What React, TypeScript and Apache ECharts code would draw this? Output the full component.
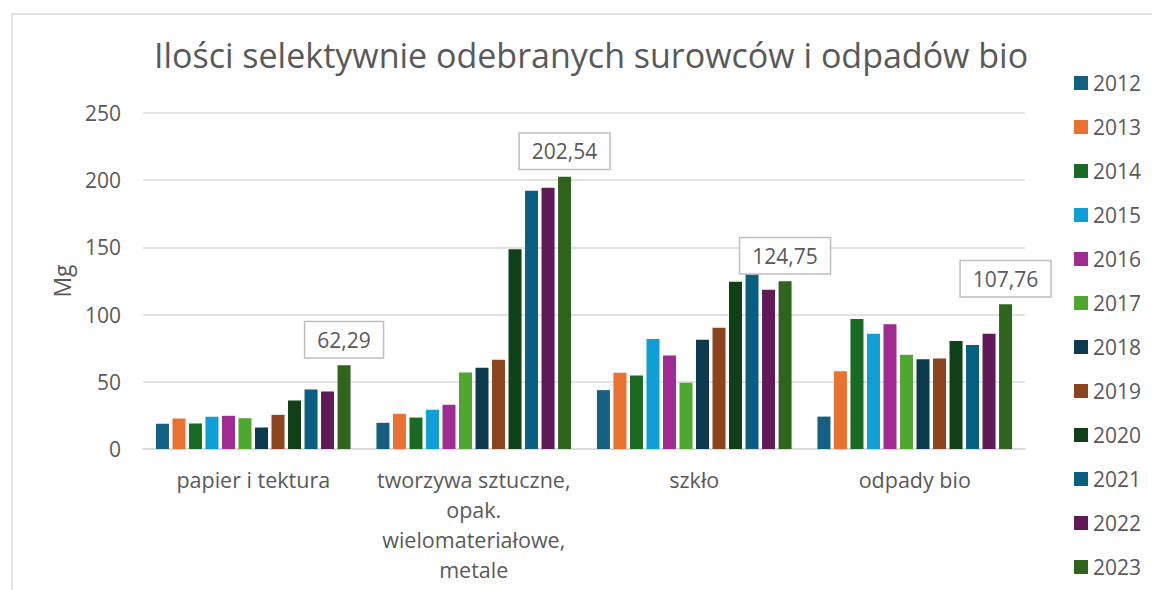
import React, { useEffect, useRef } from "react";
import * as echarts from "echarts";

const categories = [
  "papier i tektura",
  "tworzywa sztuczne,\nopak.\nwielomateriałowe,\nmetale",
  "szkło",
  "odpady bio",
];
const years = ["2012", "2013", "2014", "2015", "2016", "2017", "2018", "2019", "2020", "2021", "2022", "2023"];
const v2012 = [18.8, 19.5, 43.8, 24.1];
const v2013 = [22.7, 26.2, 56.7, 57.8];
const v2014 = [19.0, 23.4, 54.7, 96.7];
const v2015 = [24.0, 29.2, 81.9, 85.7];
const v2016 = [24.7, 32.9, 69.6, 92.9];
const v2017 = [22.9, 56.9, 49.3, 70.1];
const v2018 = [16.0, 60.4, 81.2, 66.8];
const v2019 = [25.4, 66.4, 90.2, 67.3];
const v2020 = [36.1, 148.7, 124.4, 80.4];
const v2021 = [44.3, 192.1, 129.8, 77.4];
const v2022 = [42.8, 194.3, 118.4, 85.7];
const v2023 = [62.29, 202.54, 124.75, 107.76];
const seriesValues = [v2012, v2013, v2014, v2015, v2016, v2017, v2018, v2019, v2020, v2021, v2022, v2023];
const colors = [
  "#156082", "#E97132", "#196B24", "#0F9ED5", "#A02B93", "#4EA72E",
  "#0D3A4E", "#8C441E", "#0F4016", "#095F80", "#601A58", "#2F641C",
];

const FONT = "'Open Sans', sans-serif";
const TXT = "#595959";

export default function App() {
  const ref = useRef<HTMLDivElement>(null);
  useEffect(() => {
    if (!ref.current) return;
    const chart = echarts.init(ref.current, null, { renderer: "svg" });
    const series = years.map((y, i) => ({
      name: y,
      type: "bar",
      data: seriesValues[i],
      barWidth: 13,
      barGap: "27%",
      itemStyle: { color: colors[i] },
      label:
        i === years.length - 1
          ? {
              show: true,
              position: "top",
              distance: 8,
              formatter: (p: any) => String(p.value).replace(".", ","),
              fontSize: 21,
              fontFamily: FONT,
              color: TXT,
              backgroundColor: "#fff",
              borderColor: "#BFBFBF",
              borderWidth: 1.5,
              padding: [7, 12, 7, 12],
            }
          : { show: false },
    }));
    chart.setOption({
      animation: false,
      textStyle: { fontFamily: FONT },
      title: {
        text: "Ilości selektywnie odebranych surowców i odpadów bio",
        left: 586,
        textAlign: "center",
        top: 33,
        textStyle: { fontSize: 34, fontWeight: "normal", color: TXT, fontFamily: FONT },
      },
      graphic: [
        {
          type: "rect",
          shape: { x: 12, y: 14, width: 1300, height: 800 },
          style: { fill: "none", stroke: "#D9D9D9", lineWidth: 1.5 },
          silent: true,
        },
      ],
      legend: {
        orient: "vertical",
        left: 1069,
        top: 67,
        itemWidth: 14,
        itemHeight: 14,
        itemGap: 22,
        icon: "rect",
        textStyle: { fontSize: 21, color: TXT, fontFamily: FONT, lineHeight: 22 },
        data: years,
      },
      grid: { left: 143, right: 127, top: 113, bottom: 141, containLabel: false },
      xAxis: {
        type: "category",
        data: categories,
        axisTick: { show: false },
        axisLine: { lineStyle: { color: "#D9D9D9", width: 1.5 } },
        axisLabel: { fontSize: 21.5, color: TXT, fontFamily: FONT, lineHeight: 30, margin: 15, interval: 0 },
      },
      yAxis: {
        type: "value",
        min: 0,
        max: 250,
        interval: 50,
        name: "Mg",
        nameLocation: "middle",
        nameGap: 70,
        nameTextStyle: { fontSize: 23, color: TXT, fontFamily: FONT },
        axisLabel: { fontSize: 21, color: TXT, fontFamily: FONT, margin: 22 },
        splitLine: { lineStyle: { color: "#D9D9D9", width: 1.5 } },
      },
      series,
    });
    return () => chart.dispose();
  }, []);
  return (
    <div
      ref={ref}
      style={{ position: "fixed", left: 0, top: 0, width: 1152, height: 590, background: "#fff" }}
    />
  );
}
